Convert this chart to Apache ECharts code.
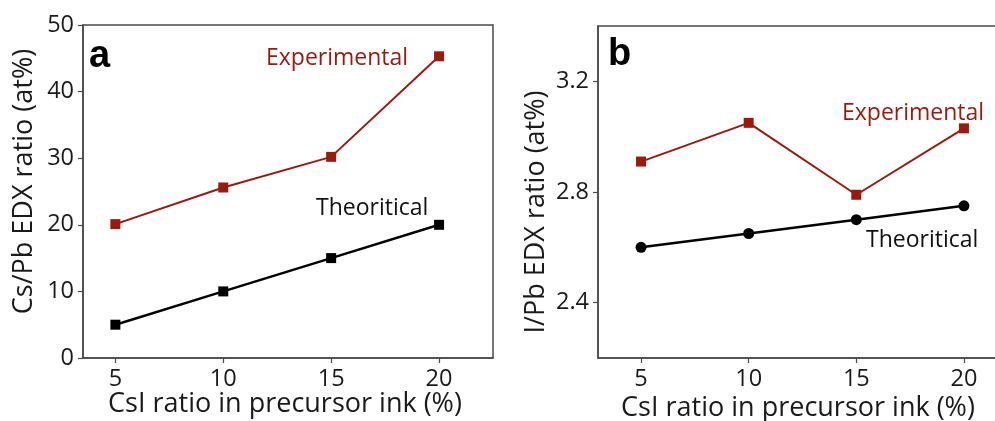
<!DOCTYPE html>
<html>
<head>
<meta charset="utf-8">
<script src="https://cdn.jsdelivr.net/npm/echarts@6/dist/echarts.min.js"></script>
<style>html,body{margin:0;padding:0;background:#fff}#c{width:995px;height:421px}</style>
</head>
<body>
<div id="c"></div>
<script>
const xValues = [5, 10, 15, 20];
const csPbExperimental = [20.1, 25.6, 30.2, 45.3];
const csPbTheoretical = [5, 10, 15, 20];
const iPbExperimental = [2.91, 3.05, 2.79, 3.03];
const iPbTheoretical = [2.60, 2.65, 2.70, 2.75];
const xTicks = [5, 10, 15, 20];
const rightYTicks = [2.4, 2.8, 3.2];

const RED = '#9b1a0c';
const FONT = 'Open Sans';
const pairs = (xs, ys) => xs.map((x, i) => [x, ys[i]]);

const axisCommon = {
  axisLine: {show: true, lineStyle: {color: '#4a4a4a', width: 1.5}},
  axisTick: {show: true, inside: false, length: 5, lineStyle: {color: '#4a4a4a', width: 1.2}},
  splitLine: {show: false},
  axisLabel: {color: '#1a1a1a', fontFamily: FONT, fontSize: 23.5},
  nameMoveOverlap: false
};

const chart = echarts.init(document.getElementById('c'), null, {renderer: 'canvas'});
chart.setOption({
  animation: false,
  backgroundColor: '#fff',
  grid: [
    {left: 83, top: 25, width: 410, height: 333, show: true, borderColor: '#4a4a4a', borderWidth: 1.5, backgroundColor: 'transparent', containLabel: false, outerBoundsMode: 'none'},
    {left: 598, top: 26, width: 409, height: 332, show: true, borderColor: '#4a4a4a', borderWidth: 1.5, backgroundColor: 'transparent', containLabel: false, outerBoundsMode: 'none'}
  ],
  xAxis: [
    Object.assign({}, axisCommon, {gridIndex: 0, type: 'value', min: 3.5, max: 22.5,
      axisTick: Object.assign({}, axisCommon.axisTick, {customValues: xTicks}),
      axisLabel: Object.assign({}, axisCommon.axisLabel, {customValues: xTicks, margin: 9}),
      name: 'CsI ratio in precursor ink (%)', nameLocation: 'middle', nameGap: 33,
      nameTextStyle: {color: '#1a1a1a', fontFamily: FONT, fontSize: 27, padding: [0, 6, 0, 0]}}),
    Object.assign({}, axisCommon, {gridIndex: 1, type: 'value', min: 3, max: 22,
      axisTick: Object.assign({}, axisCommon.axisTick, {customValues: xTicks}),
      axisLabel: Object.assign({}, axisCommon.axisLabel, {customValues: xTicks, margin: 9}),
      name: 'CsI ratio in precursor ink (%)', nameLocation: 'middle', nameGap: 37,
      nameTextStyle: {color: '#1a1a1a', fontFamily: FONT, fontSize: 27, padding: [0, 9, 0, 0]}})
  ],
  yAxis: [
    Object.assign({}, axisCommon, {gridIndex: 0, type: 'value', min: 0, max: 50, interval: 10,
      axisLabel: Object.assign({}, axisCommon.axisLabel, {margin: 9}),
      name: 'Cs/Pb EDX ratio (at%)', nameLocation: 'middle', nameGap: 45,
      nameTextStyle: {color: '#1a1a1a', fontFamily: FONT, fontSize: 27, padding: [0, 0, 0, 20]}}),
    Object.assign({}, axisCommon, {gridIndex: 1, type: 'value', min: 2.2, max: 3.4,
      axisTick: Object.assign({}, axisCommon.axisTick, {customValues: rightYTicks}),
      axisLabel: Object.assign({}, axisCommon.axisLabel, {customValues: rightYTicks, margin: 9, formatter: v => v.toFixed(1)}),
      name: 'I/Pb EDX ratio (at%)', nameLocation: 'middle', nameGap: 48,
      nameTextStyle: {color: '#1a1a1a', fontFamily: FONT, fontSize: 27, padding: [0, 40, 0, 0]}})
  ],
  series: [
    {type: 'line', xAxisIndex: 0, yAxisIndex: 0, data: pairs(xValues, csPbExperimental),
      symbol: 'rect', symbolSize: 10, lineStyle: {color: RED, width: 2}, itemStyle: {color: RED}, z: 3},
    {type: 'line', xAxisIndex: 0, yAxisIndex: 0, data: pairs(xValues, csPbTheoretical),
      symbol: 'rect', symbolSize: 10, lineStyle: {color: '#000', width: 2.5}, itemStyle: {color: '#000'}, z: 3},
    {type: 'line', xAxisIndex: 1, yAxisIndex: 1, data: pairs(xValues, iPbExperimental),
      symbol: 'rect', symbolSize: 10, lineStyle: {color: RED, width: 2}, itemStyle: {color: RED}, z: 3},
    {type: 'line', xAxisIndex: 1, yAxisIndex: 1, data: pairs(xValues, iPbTheoretical),
      symbol: 'circle', symbolSize: 11, lineStyle: {color: '#000', width: 2.5}, itemStyle: {color: '#000'}, z: 3}
  ],
  graphic: [
    {type: 'text', left: 89, top: 38, style: {text: 'a', fontFamily: 'Liberation Sans', fontWeight: 'bold', fontSize: 38, fill: '#000'}},
    {type: 'text', left: 608, top: 36, style: {text: 'b', fontFamily: 'Liberation Sans', fontWeight: 'bold', fontSize: 38, fill: '#000'}},
    {type: 'text', left: 266, top: 47, style: {text: 'Experimental', fontFamily: FONT, fontSize: 23, fill: RED}},
    {type: 'text', left: 316, top: 197, style: {text: 'Theoritical', fontFamily: FONT, fontSize: 23, fill: '#111'}},
    {type: 'text', left: 842, top: 102, style: {text: 'Experimental', fontFamily: FONT, fontSize: 23, fill: RED}},
    {type: 'text', left: 866, top: 229, style: {text: 'Theoritical', fontFamily: FONT, fontSize: 23, fill: '#111'}}
  ]
});
</script>
</body>
</html>
